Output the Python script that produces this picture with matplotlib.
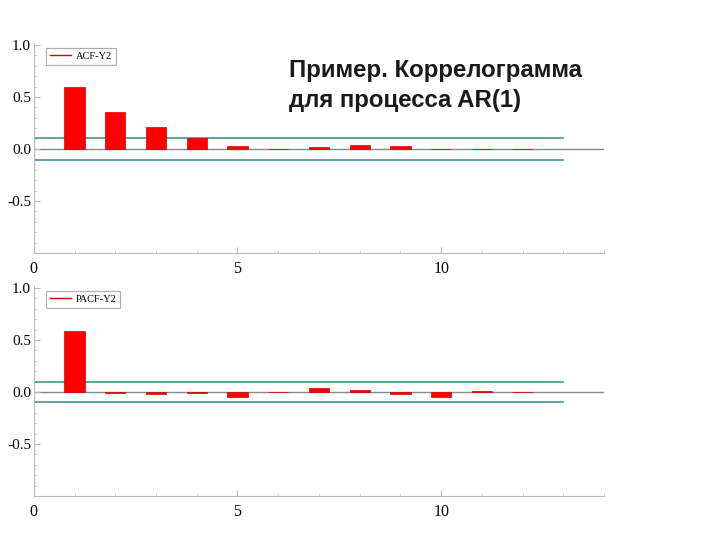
import matplotlib
matplotlib.use("Agg")
import matplotlib.pyplot as plt
from matplotlib.lines import Line2D
from matplotlib.ticker import MultipleLocator

lags = [1, 2, 3, 4, 5, 6, 7, 8, 9, 10, 11, 12]
acf_y2 = [0.60, 0.36, 0.21, 0.11, 0.03, 0.003, 0.02, 0.04, 0.03, 0.003, 0.003, 0.003]
pacf_y2 = [0.59, -0.01, -0.02, -0.005, -0.045, 0.003, 0.035, 0.02, -0.02, -0.045, 0.01, 0.003]
acf_band = 0.106
pacf_band = 0.10
band_end = 13
x_max = 14
xtick_labels = ["0", "5", "10"]
yticks = [-0.5, 0.0, 0.5, 1.0]
title_lines = ["Пример. Коррелограмма", "для процесса AR(1)"]

fig = plt.figure(figsize=(7.2, 5.4), dpi=100)
serif = "Liberation Serif"

def panel(rect, vals, band, label):
    ax = fig.add_axes(rect)
    ax.bar(lags, vals, width=0.5, color="#ff0000", edgecolor="#d40000", linewidth=0.5, zorder=3)
    ax.plot([0, band_end], [band, band], color="#3c9696", lw=1.2, zorder=2)
    ax.plot([0, band_end], [-band, -band], color="#3c9696", lw=1.2, zorder=2)
    ax.axhline(0, color="#888888", lw=1.0, zorder=1)
    ax.set_xlim(0, x_max)
    ax.set_ylim(-1.0, 1.02)
    ax.set_xticks([0, 5, 10])
    ax.set_xticklabels(xtick_labels, family=serif, fontsize=11.5)
    ax.xaxis.set_minor_locator(MultipleLocator(1))
    ax.set_yticks(yticks)
    ax.set_yticklabels([f"{t:.1f}" for t in yticks], family=serif, fontsize=11)
    ax.yaxis.set_minor_locator(MultipleLocator(0.1))
    for s in ["top", "right"]:
        ax.spines[s].set_visible(False)
    for s in ["left", "bottom"]:
        ax.spines[s].set_color("#bbbbbb")
    ax.tick_params(axis="x", direction="in", length=4, color="#bbbbbb", pad=6)
    ax.tick_params(axis="y", direction="in", length=4, color="#bbbbbb", pad=2)
    ax.tick_params(axis="both", which="minor", direction="in", length=2, color="#cccccc")
    h = Line2D([], [], color="#d00000", lw=1)
    leg = ax.legend([h], [label], loc="upper left", bbox_to_anchor=(0.018, 0.985),
                    prop={"family": serif, "size": 7.5}, frameon=True, fancybox=False,
                    handlelength=2.0, handletextpad=0.5, borderpad=0.35,
                    borderaxespad=0.2, edgecolor="#999999")
    leg.get_frame().set_linewidth(0.8)
    return ax

panel([0.047, 0.5315, 0.792, 0.389], acf_y2, acf_band, "ACF-Y2")
panel([0.047, 0.0815, 0.792, 0.389], pacf_y2, pacf_band, "PACF-Y2")

fig.text(0.401, 0.857, title_lines[0], family="Liberation Sans", fontsize=17.3,
         weight="bold", color="#1a1a1a", va="baseline")
fig.text(0.401, 0.802, title_lines[1], family="Liberation Sans", fontsize=17.3,
         weight="bold", color="#1a1a1a", va="baseline")

fig.savefig("out.png", dpi=100)
